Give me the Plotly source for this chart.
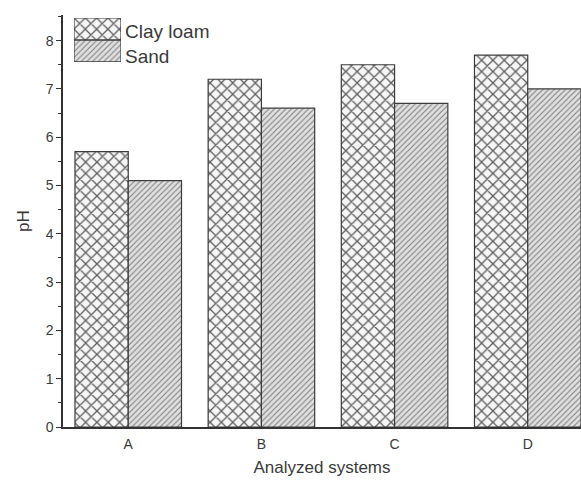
import plotly.graph_objects as go

# pH of the analyzed systems for two soil types
systems = ["A", "B", "C", "D"]
clay_loam = [5.7, 7.2, 7.5, 7.7]
sand = [5.1, 6.6, 6.7, 7.0]
series_names = ["Clay loam", "Sand"]

font_family = "Liberation Sans, Arial, sans-serif"
text_color = "#3a3a3a"
edge = dict(color="#3c3c3c", width=1.2)

clay_pattern = dict(shape="x", size=8, solidity=0.3, fgcolor="#5e5e5e", bgcolor="#f6f6f6", fillmode="replace")
sand_pattern = dict(shape="/", size=4, solidity=0.28, fgcolor="#808080", bgcolor="#e0e0e0", fillmode="replace")

fig = go.Figure()
fig.add_trace(go.Bar(x=systems, y=clay_loam, name=series_names[0],
                     marker=dict(color="#f6f6f6", pattern=clay_pattern, line=edge),
                     showlegend=False))
fig.add_trace(go.Bar(x=systems, y=sand, name=series_names[1],
                     marker=dict(color="#e0e0e0", pattern=sand_pattern, line=edge),
                     showlegend=False))

# legend swatches drawn as a small stacked bar on its own hidden axes
fig.add_trace(go.Bar(y=[series_names[1]], x=[1], orientation="h", xaxis="x2", yaxis="y2",
                     marker=dict(color="#e0e0e0", pattern=sand_pattern, line=edge), showlegend=False,
                     hoverinfo="skip"))
fig.add_trace(go.Bar(y=[series_names[0]], x=[1], orientation="h", xaxis="x2", yaxis="y2",
                     marker=dict(color="#f6f6f6", pattern=clay_pattern, line=edge), showlegend=False,
                     hoverinfo="skip"))

fig.update_layout(
    width=581, height=481,
    margin=dict(l=63, r=0, t=15, b=54),
    paper_bgcolor="white", plot_bgcolor="white",
    barmode="group", bargap=0.2, bargroupgap=0,
    font=dict(family=font_family, color=text_color, size=13),
    xaxis=dict(
        range=[-0.49, 3.4], showgrid=False, zeroline=False,
        showline=True, linecolor="#333", linewidth=1.5,
        ticks="", tickfont=dict(size=14), ticklabelstandoff=3,
        title=dict(text="Analyzed systems", font=dict(size=17), standoff=11),
    ),
    yaxis=dict(
        range=[0, 8.53], showgrid=False, zeroline=False,
        showline=True, linecolor="#333", linewidth=1.5,
        ticks="outside", ticklen=5, tickwidth=1.2, tickcolor="#333",
        dtick=1, tickfont=dict(size=14),
        minor=dict(ticks="outside", ticklen=3, tickwidth=1, tickcolor="#333", dtick=0.5),
        title=dict(text="pH", font=dict(size=17), standoff=12),
    ),
    xaxis2=dict(domain=[0.0212, 0.112], anchor="y2", range=[0, 1], visible=False, fixedrange=True),
    yaxis2=dict(domain=[0.886, 0.993], anchor="x2", visible=False, fixedrange=True,
                categoryorder="array", categoryarray=[series_names[1], series_names[0]],
                range=[-0.5, 1.5]),
)

fig.update_traces(selector=dict(xaxis="x2"), width=1)

# legend labels next to the swatches
for name, ypos in zip(series_names, [0.96, 0.90]):
    fig.add_annotation(text=name, xref="paper", yref="paper", x=0.116, y=ypos,
                       xanchor="left", yanchor="middle", showarrow=False,
                       font=dict(size=19, color=text_color))

fig.write_html("out.html")
